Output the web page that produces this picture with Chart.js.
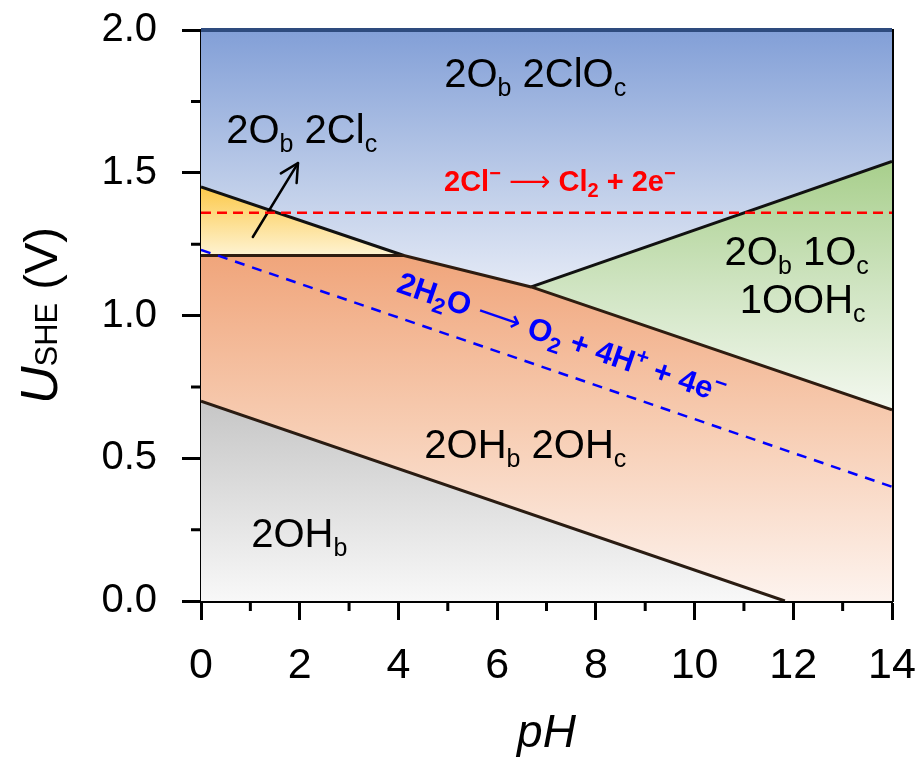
<!DOCTYPE html>
<html>
<head>
<meta charset="utf-8">
<script src="https://cdn.jsdelivr.net/npm/chart.js@4.4.0/dist/chart.umd.min.js"></script>
<style>
  html, body { margin: 0; padding: 0; background: #fff; }
  #wrap { width: 922px; height: 774px; position: relative; }
</style>
</head>
<body>
<div id="wrap"><canvas id="pourbaix"></canvas></div>
<script>
// axis ticks
const xTickValues = [0, 2, 4, 6, 8, 10, 12, 14];
const xMinorTicks = [1, 3, 5, 7, 9, 11, 13];
const yTickValues = [0, 0.5, 1.0, 1.5, 2.0];
const yMinorTicks = [0.25, 0.75, 1.25, 1.75];

// phase boundaries (pH, U vs SHE in V)
const ohBoundaryPH = [0, 11.83];
const ohBoundaryU = [0.70, 0.0];
const ohOhBoundaryPH = [0, 4.11, 6.69, 14];
const ohOhBoundaryU = [1.21, 1.21, 1.10, 0.67];
const clBoundaryPH = [0, 4.11];
const clBoundaryU = [1.45, 1.21];
const oohBoundaryPH = [6.69, 14];
const oohBoundaryU = [1.10, 1.54];
const cloBoundaryPH = [0, 14];
const cloBoundaryU = [2.0, 2.0];

// reference reactions
const chlorinePH = [0, 14];
const chlorineU = [1.36, 1.36];
const oerPH = [0, 14];
const oerU = [1.23, 0.40];

// pointer to the small 2Ob 2Clc region
const arrowPH = [1.05, 1.965];
const arrowU = [1.275, 1.534];

const FONT = '"Liberation Sans", Arial, sans-serif';
const ARROW_FONT = '"DejaVu Sans", sans-serif';

function toPoints(xs, ys) {
    return xs.map((x, i) => ({ x: x, y: ys[i] }));
}

// vertical gradient between two potentials
function vGrad(topU, botU, stops) {
    return function (context) {
        const chart = context.chart;
        if (!chart.chartArea) {
            return stops[0][1];
        }
        const y = chart.scales.y;
        const g = chart.ctx.createLinearGradient(0, y.getPixelForValue(topU), 0, y.getPixelForValue(botU));
        stops.forEach(s => g.addColorStop(s[0], s[1]));
        return g;
    };
}

// text parts: [text, relative size, 'sub' | 'sup' | '', fontStyle, family]
const regionLabels = [
    { x: 6.77, y: 1.80, size: 40, color: '#000', weight: 'normal',
      parts: [['2O', 1, ''], ['b', 0.62, 'sub'], [' 2ClO', 1, ''], ['c', 0.62, 'sub']] },
    { x: 2.04, y: 1.604, size: 40, color: '#000', weight: 'normal',
      parts: [['2O', 1, ''], ['b', 0.62, 'sub'], [' 2Cl', 1, ''], ['c', 0.62, 'sub']] },
    { x: 12.07, y: 1.177, size: 40, color: '#000', weight: 'normal',
      parts: [['2O', 1, ''], ['b', 0.62, 'sub'], [' 1O', 1, ''], ['c', 0.62, 'sub']] },
    { x: 12.19, y: 1.009, size: 40, color: '#000', weight: 'normal',
      parts: [['1OOH', 1, ''], ['c', 0.62, 'sub']] },
    { x: 6.57, y: 0.501, size: 40, color: '#000', weight: 'normal',
      parts: [['2OH', 1, ''], ['b', 0.62, 'sub'], [' 2OH', 1, ''], ['c', 0.62, 'sub']] },
    { x: 1.99, y: 0.189, size: 40, color: '#000', weight: 'normal',
      parts: [['2OH', 1, ''], ['b', 0.62, 'sub']] },
    { x: 7.27, y: 1.436, size: 29, color: '#ff0000', weight: 'bold',
      parts: [['2Cl', 1, ''], ['\u2212', 0.7, 'sup'], [' ', 1, ''], ['\u27F6', 1, '', 'normal', ARROW_FONT, 'normal'],
              [' Cl', 1, ''], ['2', 0.7, 'sub'], [' + 2e', 1, ''], ['\u2212', 0.7, 'sup']] }
];

const oerLabel = { x: 7.31, y: 0.925, size: 31, color: '#0000ff', weight: 'bold',
    parts: [['2H', 1, ''], ['2', 0.7, 'sub'], ['O ', 1, ''], ['\u27F6', 1, '', 'normal', ARROW_FONT, 'normal'],
            [' O', 1, ''], ['2', 0.7, 'sub'], [' + 4H', 1, ''], ['+', 0.7, 'sup'], [' + 4e', 1, ''], ['\u2212', 0.7, 'sup']] };

function partFont(label, p) {
    const style = p[3] || 'normal';
    const family = p[4] || FONT;
    const weight = p[5] || label.weight;
    return style + ' ' + weight + ' ' + Math.round(label.size * p[1]) + 'px ' + family;
}

function richWidth(ctx, label) {
    let w = 0;
    label.parts.forEach(p => {
        ctx.font = partFont(label, p);
        w += ctx.measureText(p[0]).width;
    });
    return w;
}

// draws parts left to right starting at x0 on baseline y0
function drawRich(ctx, label, x0, y0) {
    let x = x0;
    ctx.textBaseline = 'alphabetic';
    ctx.textAlign = 'left';
    ctx.fillStyle = label.color;
    label.parts.forEach(p => {
        ctx.font = partFont(label, p);
        let dy = 0;
        if (p[2] === 'sub') dy = label.size * 0.22;
        if (p[2] === 'sup') dy = -label.size * 0.38;
        ctx.fillText(p[0], x, y0 + dy);
        x += ctx.measureText(p[0]).width;
    });
}

const annotationPlugin = {
    id: 'annotations',
    afterDatasetsDraw(chart) {
        const ctx = chart.ctx;
        const xs = chart.scales.x;
        const ys = chart.scales.y;
        ctx.save();

        regionLabels.forEach(label => {
            const w = richWidth(ctx, label);
            drawRich(ctx, label, xs.getPixelForValue(label.x) - w / 2, ys.getPixelForValue(label.y));
        });

        // rotated OER label, following the dashed line
        const ax = xs.getPixelForValue(oerPH[0]), ay = ys.getPixelForValue(oerU[0]);
        const bx = xs.getPixelForValue(oerPH[1]), by = ys.getPixelForValue(oerU[1]);
        const angle = Math.atan2(by - ay, bx - ax);
        ctx.save();
        ctx.translate(xs.getPixelForValue(oerLabel.x), ys.getPixelForValue(oerLabel.y));
        ctx.rotate(angle);
        const w = richWidth(ctx, oerLabel);
        drawRich(ctx, oerLabel, -w / 2, oerLabel.size * 0.36);
        ctx.restore();

        // arrowhead at the end of the pointer dataset
        const meta = chart.getDatasetMeta(2);
        const p0 = meta.data[0], p1 = meta.data[1];
        const a = Math.atan2(p1.y - p0.y, p1.x - p0.x);
        const len = 20, spread = 0.48;
        ctx.strokeStyle = '#000';
        ctx.lineWidth = 2.5;
        ctx.lineCap = 'round';
        ctx.lineJoin = 'round';
        ctx.beginPath();
        ctx.moveTo(p1.x - len * Math.cos(a - spread), p1.y - len * Math.sin(a - spread));
        ctx.lineTo(p1.x, p1.y);
        ctx.lineTo(p1.x - len * Math.cos(a + spread), p1.y - len * Math.sin(a + spread));
        ctx.stroke();

        ctx.restore();
    },
    afterDraw(chart) {
        const ctx = chart.ctx;
        const xs = chart.scales.x;
        const ys = chart.scales.y;
        const area = chart.chartArea;
        ctx.save();
        ctx.strokeStyle = '#000';
        ctx.lineWidth = 3;
        ctx.beginPath();
        xMinorTicks.forEach(v => {
            const px = xs.getPixelForValue(v);
            ctx.moveTo(px, area.bottom);
            ctx.lineTo(px, area.bottom + 10);
        });
        yMinorTicks.forEach(v => {
            const py = ys.getPixelForValue(v);
            ctx.moveTo(area.left, py);
            ctx.lineTo(area.left - 10, py);
        });
        ctx.stroke();

        // y axis title: U_SHE (V)
        const title = { size: 46, color: '#000', weight: 'normal',
            parts: [['U', 1.14, '', 'italic'], ['SHE', 0.68, ''], [' (V)', 1.02, '']] };
        const tw = richWidth(ctx, title);
        ctx.translate(57, (area.top + area.bottom) / 2);
        ctx.rotate(-Math.PI / 2);
        drawRich(ctx, title, -tw / 2, 0);
        ctx.restore();
    }
};

const datasets = [
    { label: 'Cl2 evolution', data: toPoints(chlorinePH, chlorineU), borderColor: '#ff0000',
      borderWidth: 2.5, borderDash: [10, 6], fill: false },
    { label: 'O2 evolution', data: toPoints(oerPH, oerU), borderColor: '#0000ff',
      borderWidth: 2.5, borderDash: [10, 8], fill: false },
    { label: 'pointer', data: toPoints(arrowPH, arrowU), borderColor: '#000',
      borderWidth: 2.5, fill: false, borderCapStyle: 'round' },
    { label: '2OHb', data: toPoints(ohBoundaryPH, ohBoundaryU), borderColor: '#2a1c12',
      borderWidth: 3, fill: 'origin',
      backgroundColor: vGrad(0.70, 0.0, [[0, '#c6c6c6'], [1, '#f8f8f8']]) },
    { label: '2OHb 2OHc', data: toPoints(ohOhBoundaryPH, ohOhBoundaryU), borderColor: '#2e1c10',
      borderWidth: 3, fill: 'origin',
      backgroundColor: vGrad(1.21, 0.0, [[0, '#f0a57b'], [0.5, '#f7cdb3'], [1, '#fdf3ee']]) },
    { label: '2Ob 2Clc', data: toPoints(clBoundaryPH, clBoundaryU), borderColor: '#111111',
      borderWidth: 3, fill: 'origin',
      backgroundColor: vGrad(1.45, 1.21, [[0, '#fcc94a'], [1, '#fef3d2']]) },
    { label: '2Ob 1Oc 1OOHc', data: toPoints(oohBoundaryPH, oohBoundaryU), borderColor: '#111111',
      borderWidth: 3, fill: 'origin',
      backgroundColor: vGrad(1.54, 0.67, [[0, '#a8cf8c'], [0.5, '#cfe4c1'], [1, '#f3f8ef']]) },
    { label: '2Ob 2ClOc', data: toPoints(cloBoundaryPH, cloBoundaryU), borderColor: '#2e4b7e',
      borderWidth: 4, fill: 'origin', clip: 3,
      backgroundColor: vGrad(2.0, 0.95, [[0, '#829fd7'], [0.55, '#c2d0ea'], [1, '#f3f5fb']]) }
];

new Chart(document.getElementById('pourbaix').getContext('2d'), {
    type: 'line',
    data: { datasets: datasets },
    options: {
        responsive: true,
        maintainAspectRatio: false,
        animation: false,
        elements: { point: { radius: 0, hoverRadius: 0 }, line: { tension: 0 } },
        layout: { padding: { top: 30, right: 30, left: 0, bottom: 0 } },
        plugins: { legend: { display: false }, tooltip: { enabled: false } },
        events: [],
        scales: {
            x: {
                type: 'linear', position: 'bottom', min: 0, max: 14,
                afterBuildTicks: s => { s.ticks = xTickValues.map(v => ({ value: v })); },
                afterFit: s => { s.height = 173; s.paddingLeft = 0; s.paddingRight = 0; },
                ticks: { font: { family: FONT, size: 43 }, color: '#000', padding: 20, maxRotation: 0,
                         callback: v => String(v) },
                grid: { drawOnChartArea: false, tickLength: 19, tickWidth: 3, tickColor: '#000' },
                border: { display: true, width: 3, color: '#000' },
                title: { display: true, text: 'pH', color: '#000',
                         font: { family: FONT, size: 46, style: 'italic' }, padding: { top: 0, bottom: 12 } }
            },
            y: {
                type: 'linear', position: 'left', min: 0, max: 2,
                afterBuildTicks: s => { s.ticks = yTickValues.map(v => ({ value: v })); },
                afterFit: s => { s.width = 201; s.paddingTop = 0; s.paddingBottom = 0; },
                ticks: { font: { family: FONT, size: 40 }, color: '#000', padding: 25,
                         callback: v => v.toFixed(1) },
                grid: { drawOnChartArea: false, tickLength: 19, tickWidth: 3, tickColor: '#000' },
                border: { display: true, width: 3, color: '#000' }
            },
            y2: {
                type: 'linear', position: 'right', min: 0, max: 2,
                afterFit: s => { s.width = 0; s.paddingTop = 0; s.paddingBottom = 0; },
                ticks: { display: false },
                grid: { display: false, drawTicks: false },
                border: { display: true, width: 3, color: '#000' }
            }
        }
    },
    plugins: [annotationPlugin]
});
</script>
</body>
</html>
